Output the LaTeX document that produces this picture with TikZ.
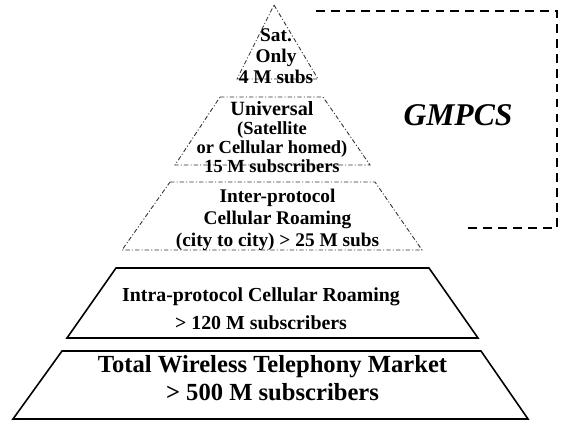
\documentclass[tikz,border=0pt]{standalone}
\usepackage{fontspec}
\setmainfont{Liberation Serif}
\usetikzlibrary{positioning}

\tikzset{
    faint/.style={draw=black!80, line width=0.5pt, dash pattern=on 2.5pt off 1.2pt on 0.6pt off 1.2pt},
    solidtier/.style={draw, line width=0.9pt, line join=miter},
    gmbox/.style={draw, line width=1.3pt, dash pattern=on 5pt off 3.5pt},
    txt/.style={align=center, inner sep=0pt, font=\bfseries}
}

\begin{document}
\begin{tikzpicture}
        \useasboundingbox (0, 0) rectangle (11.3, 8.42);
        % pyramid tiers, top to bottom
        \draw[faint] (5.48, 8.32) -- (6.36, 6.84) -- (4.74, 6.84) -- cycle;
        \draw[faint] (4.40, 6.48) -- (6.46, 6.48) -- (7.40, 5.12) -- (3.50, 5.12) -- cycle;
        \draw[faint] (3.40, 4.78) -- (7.50, 4.78) -- (8.44, 3.42) -- (2.44, 3.42) -- cycle;
        \draw[solidtier] (2.32, 3.06) -- (8.58, 3.06) -- (9.56, 1.66) -- (1.34, 1.66) -- cycle;
        \draw[solidtier] (1.24, 1.40) -- (9.62, 1.40) -- (10.56, 0.04) -- (0.26, 0.04) -- cycle;
        % GMPCS region
        \draw[gmbox] (6.32, 8.20) -- (11.14, 8.20) -- (11.14, 3.86) -- (9.34, 3.86);

        \node[txt, font=\bfseries\fontsize{11}{12}\selectfont] (sat) at (5.52, 7.29)
                {Sat.\\Only\\4 M subs};
        \node[txt, font=\bfseries\fontsize{10.5}{10.8}\selectfont] (univ) at (5.44, 5.68)
                {{\fontsize{11.5}{11.5}\selectfont Universal}\\(Satellite\\or Cellular homed)\\15 M subscribers};
        \node[txt, font=\bfseries\fontsize{11}{12.6}\selectfont] (inter) at (5.55, 4.02)
                {Inter-protocol\\Cellular Roaming\\(city to city) > 25 M subs};
        \node[txt, font=\bfseries\fontsize{11.3}{16}\selectfont] (intra) at (5.22, 2.25)
                {Intra-protocol Cellular Roaming\\> 120 M subscribers};
        \node[txt, font=\bfseries\fontsize{14}{16}\selectfont] (total) at (5.45, 0.85)
                {Total Wireless Telephony Market\\> 500 M subscribers};
        \node[txt, font=\bfseries\itshape\fontsize{18}{20}\selectfont] (gmpcs) at (9.16, 6.12) {GMPCS};
\end{tikzpicture}
\end{document}
